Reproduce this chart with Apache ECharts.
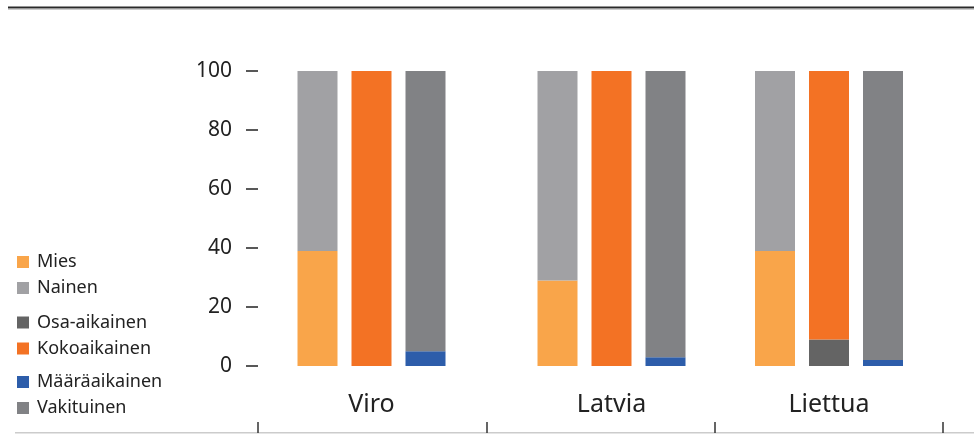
<!DOCTYPE html>
<html>
<head>
<meta charset="utf-8">
<script src="https://cdn.jsdelivr.net/npm/echarts@6/dist/echarts.min.js"></script>
<style>
  html, body { margin: 0; padding: 0; background: #fff; }
  #chart { width: 974px; height: 434px; }
</style>
</head>
<body>
<div id="chart"></div>
<script>
// Countries and shares (%) per country
const countries = ['Viro', 'Latvia', 'Liettua'];
const mies = [39, 29, 39];
const nainen = [61, 71, 61];
const osaAikainen = [0, 0, 9];
const kokoaikainen = [100, 100, 91];
const maaraaikainen = [5, 3, 2];
const vakituinen = [95, 97, 98];
const yTicks = [0, 20, 40, 60, 80, 100];

const TEXT = '#222222';
const FONT = '"Noto Sans", "Open Sans", sans-serif';

// stack groups: bottom segment first, then top segment
const seriesDefs = [
  { name: 'Mies', stack: 'sukupuoli', values: mies, color: '#F9A54A' },
  { name: 'Nainen', stack: 'sukupuoli', values: nainen, color: '#A1A1A4' },
  { name: 'Osa-aikainen', stack: 'tyoaika', values: osaAikainen, color: '#646464' },
  { name: 'Kokoaikainen', stack: 'tyoaika', values: kokoaikainen, color: '#F37224' },
  { name: 'Määräaikainen', stack: 'sopimus', values: maaraaikainen, color: '#2D5DAA' },
  { name: 'Vakituinen', stack: 'sopimus', values: vakituinen, color: '#818285' }
];

// one small grid per country, centred over its bar group
const groupCenters = [371.5, 611.5, 829];
const groupWidth = 200;

const grids = [
  // grid 0: bottom band axis with the country separators
  { left: 258, right: 31, top: 422, bottom: 1 },
  // grid 1: value axis
  { left: 258, width: 10, top: 71, bottom: 68 }
];
const xAxes = [
  {
    type: 'category',
    gridIndex: 0,
    data: countries,
    axisLine: { show: false },
    axisTick: { show: true, inside: true, length: 11, lineStyle: { color: '#333', width: 1.5 } },
    axisLabel: { show: false },
    splitLine: { show: false }
  },
  { type: 'value', gridIndex: 1, show: false, splitLine: { show: false } }
];
const yAxes = [
  { type: 'value', gridIndex: 0, show: false, splitLine: { show: false } },
  {
    type: 'value',
    gridIndex: 1,
    min: 0,
    max: 100,
    interval: 20,
    axisLine: { show: false },
    axisTick: { show: true, length: 12, lineStyle: { color: TEXT, width: 1.5 } },
    axisLabel: {
      margin: 26, color: TEXT, fontSize: 21, fontFamily: FONT,
      formatter: v => (yTicks.indexOf(v) >= 0 ? String(v) : '')
    },
    splitLine: { show: false }
  }
];
const series = [];

countries.forEach((c, i) => {
  const gi = i + 2;
  grids.push({ left: groupCenters[i] - groupWidth / 2, width: groupWidth, top: 71, bottom: 68 });
  xAxes.push({
    type: 'category',
    gridIndex: gi,
    data: [c],
    axisLine: { show: false },
    axisTick: { show: false },
    axisLabel: { margin: 26, color: TEXT, fontSize: 25, fontFamily: FONT },
    splitLine: { show: false }
  });
  yAxes.push({ type: 'value', gridIndex: gi, min: 0, max: 100, show: false, splitLine: { show: false } });
  seriesDefs.forEach(d => {
    series.push({
      name: d.name,
      type: 'bar',
      xAxisIndex: gi,
      yAxisIndex: gi,
      stack: d.stack + '_' + i,
      barWidth: 40,
      barGap: '35%',
      itemStyle: { color: d.color },
      emphasis: { disabled: true },
      data: [d.values[i]]
    });
  });
});

const legendBase = {
  orient: 'vertical',
  left: 17,
  padding: 0,
  itemWidth: 12,
  itemHeight: 12,
  itemGap: 8,
  icon: 'rect',
  selectedMode: false,
  textStyle: { color: TEXT, fontSize: 18, fontFamily: FONT, lineHeight: 18, padding: [0, 0, 0, 3] }
};

const chart = echarts.init(document.getElementById('chart'), null, { renderer: 'canvas' });
chart.setOption({
  animation: false,
  backgroundColor: '#ffffff',
  grid: grids,
  xAxis: xAxes,
  yAxis: yAxes,
  legend: [
    Object.assign({}, legendBase, { top: 253, data: ['Mies', 'Nainen'] }),
    Object.assign({}, legendBase, { top: 313.5, data: ['Osa-aikainen', 'Kokoaikainen'] }),
    Object.assign({}, legendBase, { top: 373, data: ['Määräaikainen', 'Vakituinen'] })
  ],
  graphic: [
    // top rule: dark line with a thin grey line under it
    { type: 'rect', shape: { x: 8, y: 6.5, width: 966, height: 2 }, style: { fill: '#2b2b2b' }, silent: true },
    { type: 'rect', shape: { x: 8, y: 8.5, width: 966, height: 1 }, style: { fill: '#9a9a9a' }, silent: true },
    // bottom rule
    { type: 'rect', shape: { x: 15, y: 432, width: 959, height: 1.5 }, style: { fill: '#cccccc' }, silent: true }
  ],
  series: series
});
</script>
</body>
</html>
